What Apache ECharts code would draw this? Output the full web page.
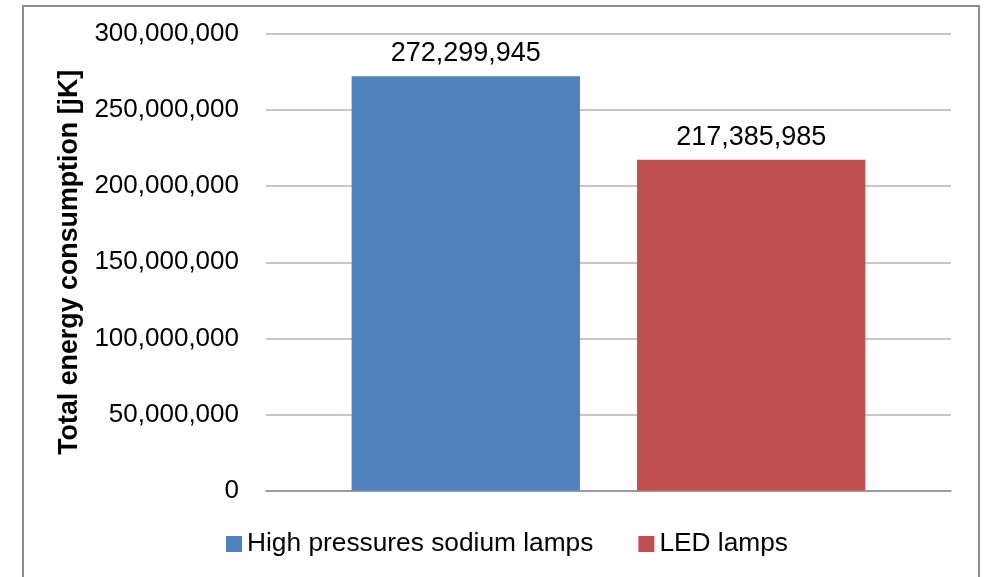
<!DOCTYPE html>
<html>
<head>
<meta charset="utf-8">
<script src="https://cdn.jsdelivr.net/npm/echarts@6/dist/echarts.min.js"></script>
<style>
  html, body { margin: 0; padding: 0; background: #fff; }
  #chart { width: 984px; height: 577px; }
</style>
</head>
<body>
<div id="chart"></div>
<script>
// Energy use of the two lamp types
const categories = [''];
const seriesNames = ['High pressures sodium lamps', 'LED lamps'];
const sodiumValues = [272299945];
const ledValues = [217385985];
const yTicks = { min: 0, max: 300000000, interval: 50000000 };

const fontFamily = '"Liberation Sans", Arial, sans-serif';
const fmt = v => Math.round(v).toString().replace(/\B(?=(\d{3})+(?!\d))/g, ',');

const chart = echarts.init(document.getElementById('chart'), null, { renderer: 'canvas' });

const labelStyle = {
  show: true,
  position: 'top',
  distance: 9,
  color: '#000',
  fontSize: 27,
  fontFamily: fontFamily,
  formatter: p => fmt(p.value)
};

chart.setOption({
  animation: false,
  backgroundColor: '#fff',
  graphic: [{
    type: 'rect',
    shape: { x: 23, y: 6, width: 956, height: 600 },
    style: { fill: 'none', stroke: '#8c8c8c', lineWidth: 2 },
    silent: true,
    z: -1
  }],
  grid: { left: 266, right: 33, top: 34, bottom: 86.5, containLabel: false },
  legend: {
    data: seriesNames,
    left: 221,
    top: 526,
    itemWidth: 16,
    itemHeight: 16,
    itemGap: 45,
    icon: 'rect',
    textStyle: { color: '#000', fontSize: 26.3, fontFamily: fontFamily }
  },
  xAxis: {
    type: 'category',
    data: categories,
    axisLine: { show: true, lineStyle: { color: '#8c8c8c', width: 1.5 } },
    axisTick: { show: false },
    axisLabel: { show: false }
  },
  yAxis: {
    type: 'value',
    min: yTicks.min,
    max: yTicks.max,
    interval: yTicks.interval,
    name: 'Total energy consumption [jK]',
    nameLocation: 'middle',
    nameGap: 176,
    nameTextStyle: { color: '#000', fontSize: 26.8, fontWeight: 'bold', fontFamily: fontFamily },
    axisLine: { show: false },
    axisTick: { show: false },
    axisLabel: { color: '#000', fontSize: 26, fontFamily: fontFamily, margin: 27, formatter: fmt },
    splitLine: { lineStyle: { color: '#b3b3b3', width: 1.5 } }
  },
  series: [
    {
      name: seriesNames[0],
      type: 'bar',
      data: sodiumValues,
      barGap: '25%',
      barCategoryGap: '25%',
      itemStyle: { color: '#4F81BD' },
      label: labelStyle
    },
    {
      name: seriesNames[1],
      type: 'bar',
      data: ledValues,
      barGap: '25%',
      barCategoryGap: '25%',
      itemStyle: { color: '#C0504D' },
      label: labelStyle
    }
  ]
});
</script>
</body>
</html>
